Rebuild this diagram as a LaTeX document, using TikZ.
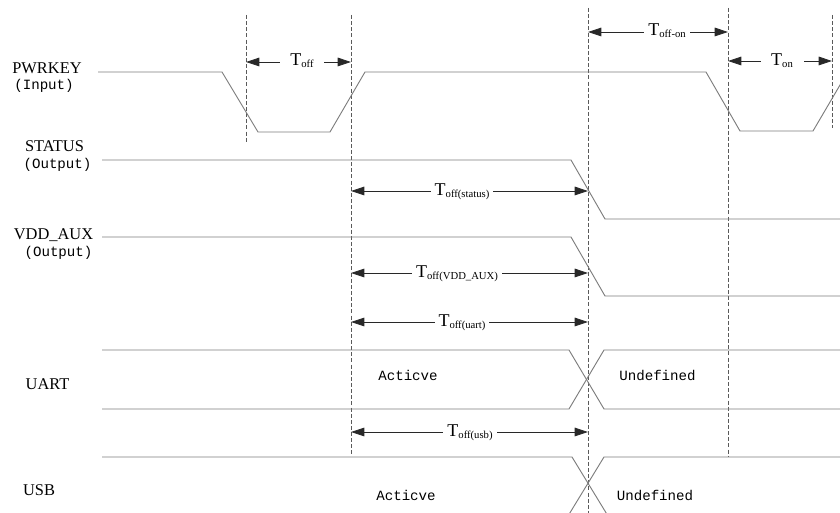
\documentclass[tikz,border=0pt]{standalone}
\usepackage{fontspec}
\setmainfont{Liberation Serif}
\newfontfamily\monof{Liberation Mono}
\usetikzlibrary{arrows.meta}
\definecolor{sigc}{RGB}{125,125,125}
\definecolor{guidec}{RGB}{90,90,90}
\definecolor{dimc}{RGB}{40,40,40}
\newcommand{\tlabel}[1]{\fontsize{13.5}{14}\selectfont T\raisebox{-1.2pt}{\fontsize{8}{9}\selectfont #1}}
\begin{document}
\begin{tikzpicture}[x=0.75pt,y=-0.75pt,
  sig/.style={draw=sigc, line width=0.7pt},
  guide/.style={draw=guidec, line width=0.5pt, dash pattern=on 3pt off 1.6pt},
  dim/.style={draw=dimc, line width=0.6pt, {Triangle[length=10pt,width=6.5pt]}-{Triangle[length=10pt,width=6.5pt]}},
  tlab/.style={fill=white, inner xsep=3pt, inner ysep=0.5pt, anchor=base},
  sname/.style={font=\fontsize{12.3}{13}\selectfont, anchor=base, inner sep=0pt},
  mono/.style={font=\fontsize{10.6}{12}\monof, anchor=base, inner sep=0pt}]
\useasboundingbox (0,0) rectangle (840,513);
\clip (0,0) rectangle (840,513);

% guide (dashed) lines
\coordinate (g1t) at (246,15);  \coordinate (g1b) at (246,143);
\coordinate (g2t) at (351,15);  \coordinate (g2b) at (351,455);
\coordinate (g3t) at (588,8);   \coordinate (g3b) at (588,513);
\coordinate (g4t) at (728,8);   \coordinate (g4b) at (728,457);
\coordinate (g5t) at (832,15);  \coordinate (g5b) at (832,128);
\foreach \g in {g1,g2,g3,g4,g5} \draw[guide] (\g t) -- (\g b);

% signal names
\node[sname] (pwr) at (47,74) {PWRKEY};
\node[mono] (pwrio) at (44,90) {(Input)};
\node[sname] (st) at (54.5,152) {STATUS};
\node[mono] (stio) at (57.5,169) {(Output)};
\node[sname] (vdd) at (53.5,240) {VDD\_AUX};
\node[mono] (vddio) at (58.5,257) {(Output)};
\node[sname] (uart) at (47.5,390) {UART};
\node[sname] (usb) at (39,496) {USB};

% PWRKEY waveform
\draw[sig] (98,72) -- (222,72) -- (258,132) -- (330,132) -- (365,72)
  -- (706,72) -- (740,131) -- (813,131) -- (850,68);
% STATUS
\draw[sig] (102,160) -- (571,160) -- (605,219) -- (840,219);
% VDD_AUX
\draw[sig] (102,237) -- (571,237) -- (605,296) -- (840,296);
% UART
\draw[sig] (102,350) -- (569,350) -- (604,409) -- (840,409);
\draw[sig] (102,409) -- (569,409) -- (604,350) -- (840,350);
% USB
\draw[sig] (102,457) -- (572,457) -- (608,516);
\draw[sig] (840,457) -- (604,457) -- (568,516);

% state texts
\node[mono] (ua1) at (408,381) {Acticve};
\node[mono] (ua2) at (657.5,381) {Undefined};
\node[mono] (us1) at (406,501) {Acticve};
\node[mono] (us2) at (655,501) {Undefined};

% dimension arrows
\coordinate (a1l) at (246,62);  \coordinate (a1r) at (351,62);
\coordinate (a2l) at (588,32);  \coordinate (a2r) at (728,32);
\coordinate (a3l) at (728,61);  \coordinate (a3r) at (832,61);
\coordinate (a4l) at (351,191); \coordinate (a4r) at (588,191);
\coordinate (a5l) at (351,273); \coordinate (a5r) at (588,273);
\coordinate (a6l) at (351,322); \coordinate (a6r) at (588,322);
\coordinate (a7l) at (351,432); \coordinate (a7r) at (588,432);
\draw[dim] (a1l) -- (a1r);
\draw[dim] (a2l) -- (a2r);
\draw[dim] (a3l) -- (a3r);
\draw[dim] (a4l) -- (a4r);
\draw[dim] (a5l) -- (a5r);
\draw[dim] (a6l) -- (a6r);
\draw[dim] (a7l) -- (a7r);

\node[tlab, inner xsep=8pt] (t1) at (302,66) {\tlabel{off}};
\node[tlab] (t2) at (667,36) {\tlabel{off-on}};
\node[tlab, inner xsep=8pt] (t3) at (782,66) {\tlabel{on}};
\node[tlab] (t4) at (462,196) {\tlabel{off(status)}};
\node[tlab] (t5) at (457,278) {\tlabel{off(VDD\_AUX)}};
\node[tlab] (t6) at (462,327) {\tlabel{off(uart)}};
\node[tlab] (t7) at (470,437) {\tlabel{off(usb)}};
\end{tikzpicture}
\end{document}
